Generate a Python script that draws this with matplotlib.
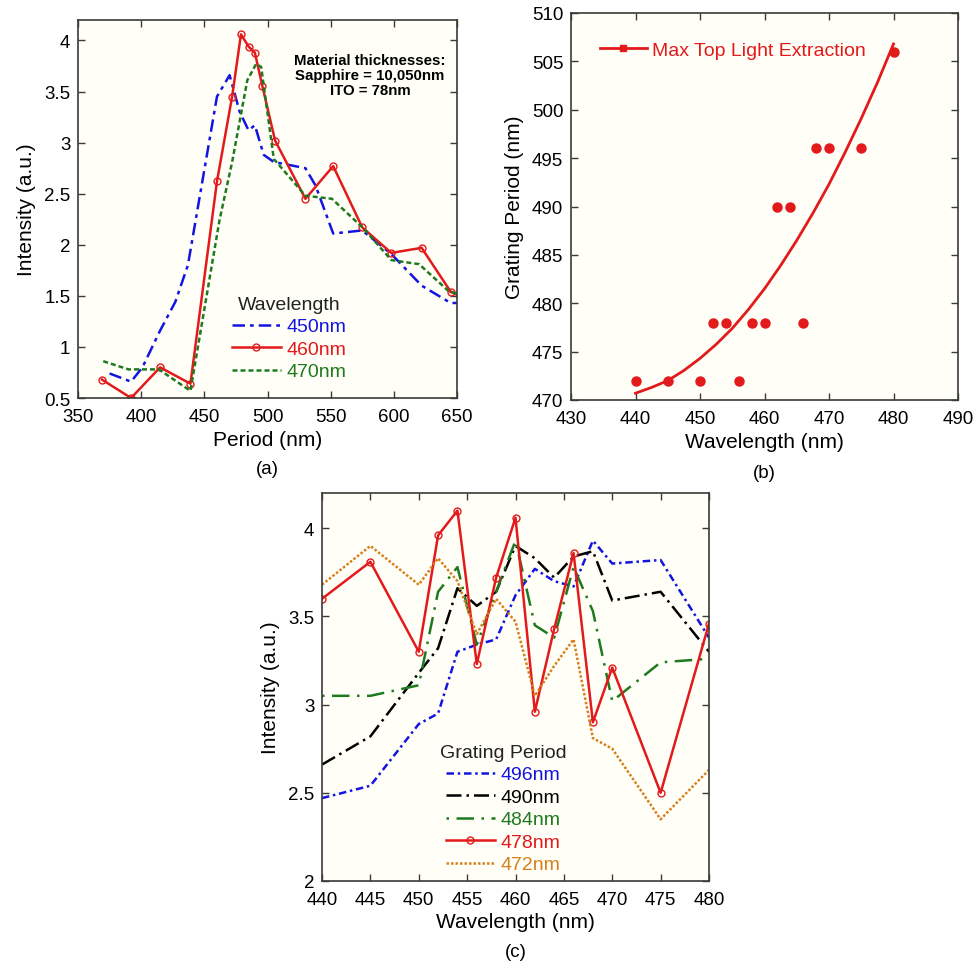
import matplotlib
matplotlib.use("Agg")
import matplotlib.pyplot as plt
from matplotlib.lines import Line2D
from matplotlib.ticker import FuncFormatter

plt.rcParams['font.family'] = ['Liberation Sans', 'DejaVu Sans']

# (a) intensitet mot period
a_blue_x = [375, 392, 401, 415, 427, 437, 460, 470, 478, 485, 490, 497, 505, 530, 538, 552, 575, 598, 622, 645, 650]
a_blue_y = [0.74, 0.66, 0.80, 1.16, 1.44, 1.80, 3.45, 3.66, 3.30, 3.12, 3.17, 2.88, 2.81, 2.75, 2.58, 2.11, 2.14, 1.91, 1.60, 1.43, 1.43]
a_red_x = [369, 392, 415, 439, 460, 472, 479, 485, 490, 496, 506, 530, 552, 575, 598, 622, 645, 650]
a_red_y = [0.68, 0.50, 0.80, 0.64, 2.62, 3.45, 4.06, 3.94, 3.88, 3.55, 3.02, 2.45, 2.77, 2.17, 1.92, 1.97, 1.54, 1.51]
a_green_x = [370, 390, 414, 439, 462, 472, 484, 491, 495, 505, 530, 551, 576, 598, 620, 643, 650]
a_green_y = [0.86, 0.78, 0.78, 0.57, 2.24, 2.81, 3.61, 3.77, 3.74, 2.84, 2.48, 2.45, 2.16, 1.85, 1.81, 1.55, 1.52]

# (b) gitterperiod mot våglängd
b_wl = [440, 445, 450, 456, 452, 454, 458, 460, 466, 462, 464, 468, 470, 475, 480]
b_period = [472, 472, 472, 472, 478, 478, 478, 478, 478, 490, 490, 496, 496, 496, 506]
b_fit_x = [440, 442.5, 445, 447.5, 450, 452.5, 455, 457.5, 460, 462.5, 465, 467.5, 470, 472.5, 475, 477.5, 480]
b_fit_y = [470.7, 471.3, 472.0, 473.05, 474.3, 475.75, 477.4, 479.35, 481.5, 483.9, 486.5, 489.3, 492.3, 495.6, 499.1, 502.8, 506.8]

# (c) intensitet mot våglängd
c_wl = [440, 445, 450, 452, 454, 456, 458, 460, 462, 464, 466, 468, 470, 475, 480]
c_496 = [2.47, 2.54, 2.89, 2.95, 3.30, 3.34, 3.37, 3.62, 3.77, 3.70, 3.67, 3.93, 3.80, 3.82, 3.38]
c_490 = [2.66, 2.82, 3.18, 3.32, 3.66, 3.56, 3.64, 3.90, 3.83, 3.72, 3.84, 3.87, 3.59, 3.64, 3.30]
c_484 = [3.05, 3.05, 3.11, 3.64, 3.78, 3.34, 3.64, 3.93, 3.45, 3.38, 3.78, 3.53, 3.02, 3.24, 3.26]
c_478 = [3.60, 3.81, 3.30, 3.96, 4.10, 3.23, 3.72, 4.06, 2.96, 3.43, 3.86, 2.90, 3.21, 2.50, 3.46]
c_472 = [3.68, 3.90, 3.68, 3.83, 3.70, 3.40, 3.60, 3.47, 3.05, 3.22, 3.37, 2.81, 2.75, 2.35, 2.63]

BLUE = '#1414e0'
RED = '#e31a1c'
GREEN = '#1f7a1f'
ORANGE = '#d77f1c'
BG = '#fffff7'

fig = plt.figure(figsize=(9.76, 9.62), dpi=100)
W, H = 976, 962


def box(l, t, r, b):
    return [l / W, (H - b) / H, (r - l) / W, (b - t) / H]


def style(ax):
    ax.set_facecolor(BG)
    for s in ax.spines.values():
        s.set_color('#3a3a3a')
        s.set_linewidth(1.2)
    ax.tick_params(direction='in', top=True, right=True, length=5, width=1,
                   color='#3a3a3a', labelsize=13.5, pad=5.5)
    ax.tick_params(axis='x', pad=7)


gfmt = FuncFormatter(lambda v, p: ('%g' % v))

# ---- (a)
ax1 = fig.add_axes(box(78, 21, 457, 399))
style(ax1)
ax1.plot(a_blue_x, a_blue_y, color=BLUE, lw=1.8, ls=(0, (5, 2, 1.5, 2)), label='450nm')
ax1.plot(a_red_x[:-1], a_red_y[:-1], color=RED, lw=1.8, marker='o', ms=5, mfc='none', mew=1, label='460nm')
ax1.plot(a_red_x[-2:], a_red_y[-2:], color=RED, lw=1.8)
ax1.plot(a_green_x, a_green_y, color=GREEN, lw=1.8, ls=(0, (2, 1.2)), label='470nm')
ax1.set_xlim(350, 650)
ax1.set_ylim(0.5, 4.2)
ax1.set_xticks(range(350, 651, 50))
ax1.set_yticks([0.5, 1, 1.5, 2, 2.5, 3, 3.5, 4])
ax1.yaxis.set_major_formatter(gfmt)
ax1.set_xlabel('Period (nm)', fontsize=15, labelpad=4)
ax1.set_ylabel('Intensity (a.u.)', fontsize=15, labelpad=6)
ax1.text(0.77, 0.855, 'Material thicknesses:\nSapphire = 10,050nm\nITO = 78nm',
         transform=ax1.transAxes, ha='center', va='center', fontsize=10.8, fontweight='bold',
         linespacing=1.1)
leg1 = ax1.legend(loc='upper left', bbox_to_anchor=((232 - 78) / 379, (399 - 297) / 378),
                  frameon=False, title='Wavelength', fontsize=14, title_fontsize=14,
                  labelcolor='linecolor', handlelength=2.5, handletextpad=0.3,
                  labelspacing=0.25, borderpad=0, borderaxespad=0)
leg1.get_title().set_color('#222222')
ax1.text(0.5, -0.165, '(a)', transform=ax1.transAxes, ha='center', va='top', fontsize=13.5)

# ---- (b)
ax2 = fig.add_axes(box(571, 14, 958, 401))
style(ax2)
ax2.plot(b_fit_x, b_fit_y, color=RED, lw=2)
ax2.plot(b_wl, b_period, 'o', color=RED, ms=6.5, ls='none')
ax2.set_xlim(430, 490)
ax2.set_ylim(470, 510)
ax2.set_xticks(range(430, 491, 10))
ax2.set_yticks(range(470, 511, 5))
ax2.set_xlabel('Wavelength (nm)', fontsize=15, labelpad=4)
ax2.set_ylabel('Grating Period (nm)', fontsize=15, labelpad=6)
h2 = Line2D([], [], color=RED, lw=2, marker='s', ms=5)
ax2.legend([h2], ['Max Top Light Extraction'], loc='upper left',
           bbox_to_anchor=((600 - 571) / 387, (401 - 42) / 387), frameon=False,
           fontsize=14, labelcolor=RED, handlelength=2.4, handletextpad=0.3,
           borderpad=0, borderaxespad=0)
ax2.text(0.5, -0.165, '(b)', transform=ax2.transAxes, ha='center', va='top', fontsize=13.5)

# ---- (c)
ax3 = fig.add_axes(box(322, 494, 709, 882))
style(ax3)
ax3.plot(c_wl, c_496, color=BLUE, lw=1.8, ls=(0, (3, 1.5, 1, 1.5)), label='496nm')
ax3.plot(c_wl, c_490, color='black', lw=1.8, ls=(0, (6, 2, 1, 2)), label='490nm')
ax3.plot(c_wl, c_484, color=GREEN, lw=1.8, ls=(0, (1, 3, 7, 3)), label='484nm')
ax3.plot(c_wl, c_478, color=RED, lw=1.8, marker='o', ms=5, mfc='none', mew=1, label='478nm')
ax3.plot(c_wl, c_472, color=ORANGE, lw=1.8, ls=(0, (1, 0.8)), label='472nm')
ax3.set_xlim(440, 480)
ax3.set_ylim(2, 4.2)
ax3.set_xticks(range(440, 481, 5))
ax3.set_yticks([2, 2.5, 3, 3.5, 4])
ax3.yaxis.set_major_formatter(gfmt)
ax3.set_xlabel('Wavelength (nm)', fontsize=15, labelpad=3)
ax3.set_ylabel('Intensity (a.u.)', fontsize=15, labelpad=6)
leg3 = ax3.legend(loc='upper left', bbox_to_anchor=((440 - 322) / 387, (882 - 745) / 388),
                  frameon=False, title='Grating Period', fontsize=14, title_fontsize=14,
                  labelcolor='linecolor', handlelength=2.5, handletextpad=0.3,
                  labelspacing=0.25, borderpad=0, borderaxespad=0)
leg3.get_title().set_color('#222222')
ax3.text(0.5, -0.16, '(c)', transform=ax3.transAxes, ha='center', va='top', fontsize=13.5)

fig.savefig('out.png', dpi=100, facecolor='white')
